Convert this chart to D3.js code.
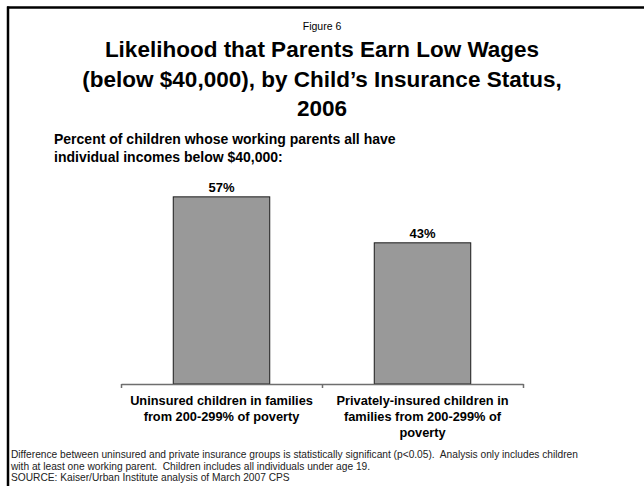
<!DOCTYPE html>
<html>
<head>
<meta charset="utf-8">
<script src="https://cdn.jsdelivr.net/npm/d3@7"></script>
<style>
  body { margin: 0; background: #fff; }
  svg { display: block; font-family: Arial, "Liberation Sans", sans-serif; }
</style>
</head>
<body>
<div id="chart"></div>
<script>
const width = 644;
const height = 486;

const categories = [
  ['Uninsured children in families', 'from 200-299% of poverty'],
  ['Privately-insured children in', 'families from 200-299% of', 'poverty']
];
const values = [57, 43];
const valueLabels = ['57%', '43%'];

const titleLines = [
  'Likelihood that Parents Earn Low Wages',
  '(below $40,000), by Child\u2019s Insurance Status,',
  '2006'
];
const subtitleLines = [
  'Percent of children whose working parents all have',
  'individual incomes below $40,000:'
];
const footnoteLines = [
  'Difference between uninsured and private insurance groups is statistically significant (p<0.05).  Analysis only includes children',
  'with at least one working parent.  Children includes all individuals under age 19.',
  'SOURCE: Kaiser/Urban Institute analysis of March 2007 CPS'
];

const svg = d3.select('#chart').append('svg')
  .attr('width', width)
  .attr('height', height);

// frame (top and left edges only)
svg.append('line')
  .attr('x1', 7).attr('x2', width).attr('y1', 7.5).attr('y2', 7.5)
  .attr('stroke', '#000').attr('stroke-width', 2.5);
svg.append('line')
  .attr('x1', 8).attr('x2', 8).attr('y1', 6.5).attr('y2', height)
  .attr('stroke', '#000').attr('stroke-width', 2.5);

svg.append('text')
  .attr('x', 322).attr('y', 30)
  .attr('text-anchor', 'middle')
  .attr('font-size', 10.5)
  .text('Figure 6');

svg.append('g').selectAll('text')
  .data(titleLines)
  .join('text')
  .attr('x', 322)
  .attr('y', (d, i) => 57 + i * 29.5)
  .attr('text-anchor', 'middle')
  .attr('font-size', 22.5)
  .attr('font-weight', 'bold')
  .text(d => d);

svg.append('g').selectAll('text')
  .data(subtitleLines)
  .join('text')
  .attr('x', 54)
  .attr('y', (d, i) => 144 + i * 17.5)
  .attr('font-size', 14)
  .attr('font-weight', 'bold')
  .text(d => d);

const x = d3.scaleBand()
  .domain(d3.range(values.length))
  .range([121, 523])
  .paddingInner(0.52)
  .paddingOuter(0.26);

const y = d3.scaleLinear()
  .domain([0, 60])
  .range([384, 187]);

svg.append('g').selectAll('rect')
  .data(values)
  .join('rect')
  .attr('x', (d, i) => x(i))
  .attr('y', d => y(d))
  .attr('width', x.bandwidth())
  .attr('height', d => y(0) - y(d))
  .attr('fill', '#999999')
  .attr('stroke', '#1a1a1a')
  .attr('stroke-width', 1);

svg.append('g').selectAll('text')
  .data(values)
  .join('text')
  .attr('x', (d, i) => x(i) + x.bandwidth() / 2)
  .attr('y', d => y(d) - 5)
  .attr('text-anchor', 'middle')
  .attr('font-size', 13)
  .attr('font-weight', 'bold')
  .text((d, i) => valueLabels[i]);

// category axis with ticks between groups
const axisX = d3.scaleLinear().domain([0, values.length]).range([121, 523]);
const axis = d3.axisBottom(axisX)
  .tickValues(d3.range(values.length + 1))
  .tickSize(4)
  .tickSizeOuter(0)
  .tickFormat('');
const axisG = svg.append('g')
  .attr('transform', `translate(0,${y(0)})`)
  .call(axis);
axisG.selectAll('path, line')
  .attr('stroke', '#6e6e6e')
  .attr('stroke-width', 1.5);

const catG = svg.append('g').selectAll('text')
  .data(categories)
  .join('text')
  .attr('text-anchor', 'middle')
  .attr('font-size', 12.8)
  .attr('font-weight', 'bold');
catG.selectAll('tspan')
  .data((d, i) => d.map(t => ({t, i})))
  .join('tspan')
  .attr('x', d => x(d.i) + x.bandwidth() / 2)
  .attr('y', (d, j) => 405 + j * 16)
  .text(d => d.t);

svg.append('g').selectAll('text')
  .data(footnoteLines)
  .join('text')
  .attr('x', 11)
  .attr('y', (d, i) => 458 + i * 11.7)
  .attr('font-size', 10.2)
  .attr('fill', '#222')
  .attr('xml:space', 'preserve')
  .style('white-space', 'pre')
  .text(d => d);
</script>
</body>
</html>
